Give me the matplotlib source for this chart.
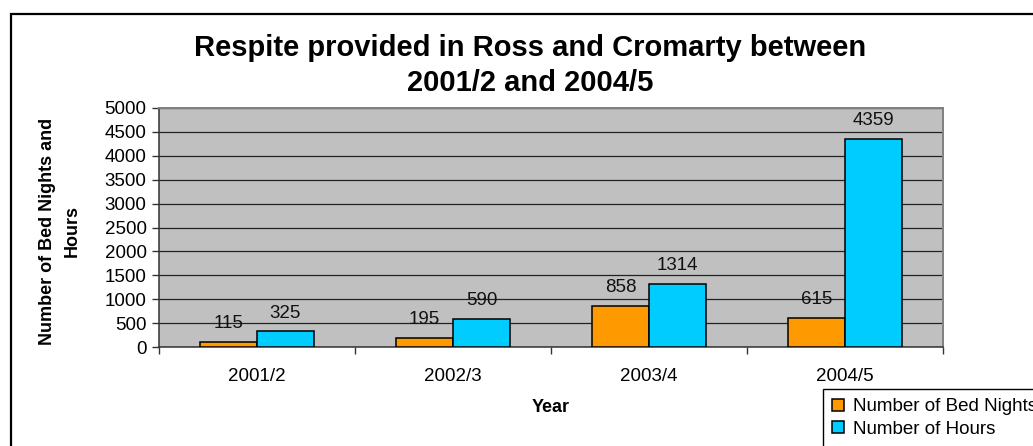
import matplotlib
matplotlib.use("Agg")
import matplotlib.pyplot as plt
from matplotlib.patches import Rectangle
import numpy as np

years = ["2001/2", "2002/3", "2003/4", "2004/5"]
bed_nights = [115, 195, 858, 615]
hours = [325, 590, 1314, 4359]
series_names = ["Number of Bed Nights", "Number of Hours"]

plt.rcParams["font.family"] = ["Liberation Sans", "DejaVu Sans"]

W, H = 1033, 446
fig = plt.figure(figsize=(W / 100, H / 100), dpi=100)
fig.patch.set_facecolor("white")

# outer chart frame (runs off the right and bottom edges)
fig.add_artist(Rectangle((11 / W, -0.1), 1.1, (H - 14) / H + 0.1,
                         transform=fig.transFigure, fill=False,
                         edgecolor="black", linewidth=1.6))

ax = fig.add_axes([159 / W, (H - 347) / H, 784 / W, 239 / H])
ax.set_facecolor("#C0C0C0")

x = np.arange(len(years))
w = 0.29
b1 = ax.bar(x - w / 2, bed_nights, w, color="#FF9900", edgecolor="black",
            linewidth=1.1, label=series_names[0], zorder=3)
b2 = ax.bar(x + w / 2, hours, w, color="#00CCFF", edgecolor="black",
            linewidth=1.1, label=series_names[1], zorder=3)

for bars in (b1, b2):
    for r in bars:
        ax.annotate(f"{int(r.get_height())}",
                    (r.get_x() + r.get_width() / 2, r.get_height()),
                    xytext=(0, 7), textcoords="offset points",
                    ha="center", va="bottom", fontsize=13.5, color="#111")

ax.set_xlim(-0.5, len(years) - 0.5)
ax.set_ylim(0, 5000)
ax.set_yticks(np.arange(0, 5001, 500))
ax.grid(axis="y", color="#222", linewidth=0.9, zorder=1)
ax.set_axisbelow(True)

ax.set_xticks(np.arange(-0.5, len(years), 1.0))
ax.set_xticklabels([])
ax.set_xticks(x, minor=True)
ax.set_xticklabels(years, minor=True)
ax.tick_params(axis="x", which="major", length=5, width=1, color="#333")
ax.tick_params(axis="x", which="minor", length=0, pad=15, labelsize=13.5)
ax.tick_params(axis="y", length=5, width=1, color="#333", pad=4,
               labelsize=13.5)

for s in ("top", "right"):
    ax.spines[s].set_color("#808080")
    ax.spines[s].set_linewidth(1.4)
for s in ("left", "bottom"):
    ax.spines[s].set_color("#333")
    ax.spines[s].set_linewidth(1.1)

ax.set_xlabel("Year", fontsize=13, fontweight="bold", labelpad=10)

fig.text(60 / W, 1 - 231 / H, "Number of Bed Nights and\nHours",
         rotation=90, ha="center", va="center", multialignment="center",
         fontsize=13, fontweight="bold", linespacing=1.65)

fig.text(530 / W, 1 - 34 / H,
         "Respite provided in Ross and Cromarty between\n2001/2 and 2004/5",
         ha="center", va="top", fontsize=21, fontweight="bold",
         linespacing=1.3)

leg = ax.legend(loc="upper left", bbox_to_anchor=(823 / W, 1 - 389 / H),
                bbox_transform=fig.transFigure, fancybox=False,
                edgecolor="black", fontsize=13.5, handlelength=0.6,
                handleheight=0.6, handletextpad=0.5, borderaxespad=0,
                borderpad=0.5, labelspacing=0.3, framealpha=1)
leg.get_frame().set_linewidth(1.0)

fig.savefig("out.png", dpi=100)
